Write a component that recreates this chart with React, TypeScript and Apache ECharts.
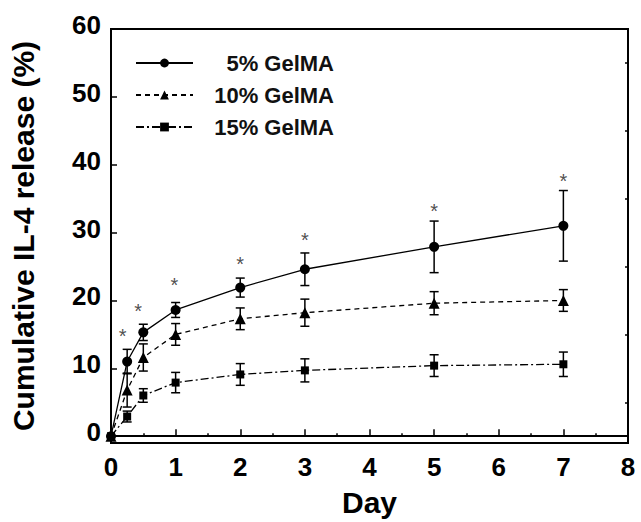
import React, { useEffect, useRef } from "react";
import * as echarts from "echarts";

const days = [0, 0.25, 0.5, 1, 2, 3, 5, 7];
const gel5 = [0, 11.0, 15.3, 18.6, 21.9, 24.6, 27.9, 31.0];
const gel5Err = [0, 1.8, 1.2, 1.1, 1.4, 2.4, 3.8, 5.2];
const gel10 = [0, 6.8, 11.6, 15.0, 17.3, 18.2, 19.6, 20.0];
const gel10Err = [0, 2.5, 2.0, 1.6, 1.6, 2.0, 1.7, 1.6];
const gel15 = [0, 2.9, 6.0, 7.9, 9.1, 9.7, 10.4, 10.6];
const gel15Err = [0, 0.8, 1.0, 1.5, 1.6, 1.7, 1.6, 1.8];
const starDays = [0.18, 0.42, 0.98, 2, 3, 5, 7];
const starValues = [15.7, 19.4, 23.2, 26.3, 29.8, 34.0, 38.5];
const seriesNames = ["5% GelMA", "10% GelMA", "15% GelMA"];
const yMajorTicks = [0, 10, 20, 30, 40, 50, 60];
const yMinorTicks = [5, 15, 25, 35, 45, 55];

const FONT = "'Liberation Sans', Arial, sans-serif";

function errorSeries(vals: number[], errs: number[]) {
  return {
    type: "custom",
    silent: true,
    z: 3,
    data: days.map((d, i) => [d, vals[i], errs[i]]),
    encode: { x: 0, y: 1 },
    renderItem: (params: any, api: any) => {
      const x = api.value(0);
      const y = api.value(1);
      const e = api.value(2);
      if (!e) return { type: "group", children: [] };
      const top = api.coord([x, y + e]);
      const bot = api.coord([x, y - e]);
      const hw = 4.5;
      const style = { stroke: "#000", lineWidth: 1.5 };
      return {
        type: "group",
        children: [
          { type: "line", shape: { x1: top[0], y1: top[1], x2: bot[0], y2: bot[1] }, style },
          { type: "line", shape: { x1: top[0] - hw, y1: top[1], x2: top[0] + hw, y2: top[1] }, style },
          { type: "line", shape: { x1: bot[0] - hw, y1: bot[1], x2: bot[0] + hw, y2: bot[1] }, style },
        ],
      };
    },
  };
}

export default function App() {
  const ref = useRef<HTMLDivElement>(null);
  useEffect(() => {
    if (!ref.current) return;
    const chart = echarts.init(ref.current, null, { renderer: "svg" });
    const tickText = { fontSize: 26, fontWeight: "bold", color: "#000", fontFamily: FONT };
    const nameText = { fontSize: 30, fontWeight: "bold", color: "#000", fontFamily: FONT };
    const option: any = {
      animation: false,
      backgroundColor: "#fff",
      grid: {
        left: 111,
        right: 13,
        top: 29,
        bottom: 79,
        show: true,
        borderColor: "#000",
        borderWidth: 2,
        backgroundColor: "transparent",
      },
      legend: {
        orient: "vertical",
        left: 130,
        top: 47,
        itemWidth: 57,
        itemHeight: 11,
        itemGap: 10,
        data: seriesNames,
        formatter: (name: string) => `{a|${name}}`,
        textStyle: {
          fontSize: 22,
          fontWeight: "bold",
          color: "#111",
          fontFamily: FONT,
          rich: {
            a: { width: 136, align: "right", fontSize: 22, fontWeight: "bold", color: "#111", fontFamily: FONT },
          },
        },
      },
      xAxis: {
        type: "value",
        min: 0,
        max: 8,
        interval: 1,
        name: "Day",
        nameLocation: "middle",
        nameGap: 44,
        nameTextStyle: nameText,
        axisLine: { lineStyle: { color: "#000", width: 2 } },
        axisTick: { inside: true, length: 7, lineStyle: { color: "#000", width: 1.5 } },
        minorTick: { show: true, splitNumber: 2, length: 3, lineStyle: { color: "#000", width: 1.5 } },
        axisLabel: { ...tickText, margin: 11 },
        splitLine: { show: false },
        minorSplitLine: { show: false },
      },
      yAxis: [
        {
          type: "value",
          min: -1,
          max: 60,
          name: "Cumulative IL-4 release (%)",
          nameLocation: "middle",
          nameGap: 73,
          nameRotate: 90,
          nameTextStyle: nameText,
          axisLine: { lineStyle: { color: "#000", width: 2 } },
          axisTick: { inside: true, length: 6, customValues: yMajorTicks, lineStyle: { color: "#000", width: 1.5 } },
          axisLabel: {
            ...tickText,
            margin: 10,
            customValues: yMajorTicks,
            verticalAlign: "bottom",
            lineHeight: 8,
          },
          splitLine: { show: false },
        },
        {
          type: "value",
          min: -1,
          max: 60,
          axisLine: { show: false },
          axisTick: { inside: true, length: 3, customValues: yMinorTicks, lineStyle: { color: "#000", width: 1.5 } },
          axisLabel: { show: false },
          splitLine: { show: false },
        },
      ],
      series: [
        {
          name: seriesNames[0],
          type: "line",
          z: 4,
          data: days.map((d, i) => [d, gel5[i]]),
          symbol: "circle",
          symbolSize: 10,
          itemStyle: { color: "#000" },
          lineStyle: { color: "#000", width: 1.3, type: "solid" },
        },
        {
          name: seriesNames[1],
          type: "line",
          z: 6,
          data: days.map((d, i) => [d, gel10[i]]),
          symbol: "triangle",
          symbolSize: 11,
          itemStyle: { color: "#000" },
          lineStyle: { color: "#000", width: 1.3, type: [5, 4] },
        },
        {
          name: seriesNames[2],
          type: "line",
          z: 5,
          data: days.map((d, i) => [d, gel15[i]]),
          symbol: "rect",
          symbolSize: 8,
          itemStyle: { color: "#000" },
          lineStyle: { color: "#000", width: 1.3, type: [8, 3, 2, 3] },
        },
        errorSeries(gel5, gel5Err),
        errorSeries(gel10, gel10Err),
        errorSeries(gel15, gel15Err),
        {
          type: "scatter",
          silent: true,
          data: starDays.map((d, i) => [d, starValues[i]]),
          symbolSize: 1,
          itemStyle: { color: "transparent" },
          label: {
            show: true,
            formatter: "*",
            position: "inside",
            fontSize: 20,
            color: "#222",
            fontFamily: FONT,
            offset: [0, 6],
          },
        },
      ],
    };
    chart.setOption(option);
    return () => chart.dispose();
  }, []);
  return (
    <div
      ref={ref}
      style={{ position: "fixed", left: 0, top: 0, width: 641, height: 522, background: "#fff" }}
    />
  );
}
